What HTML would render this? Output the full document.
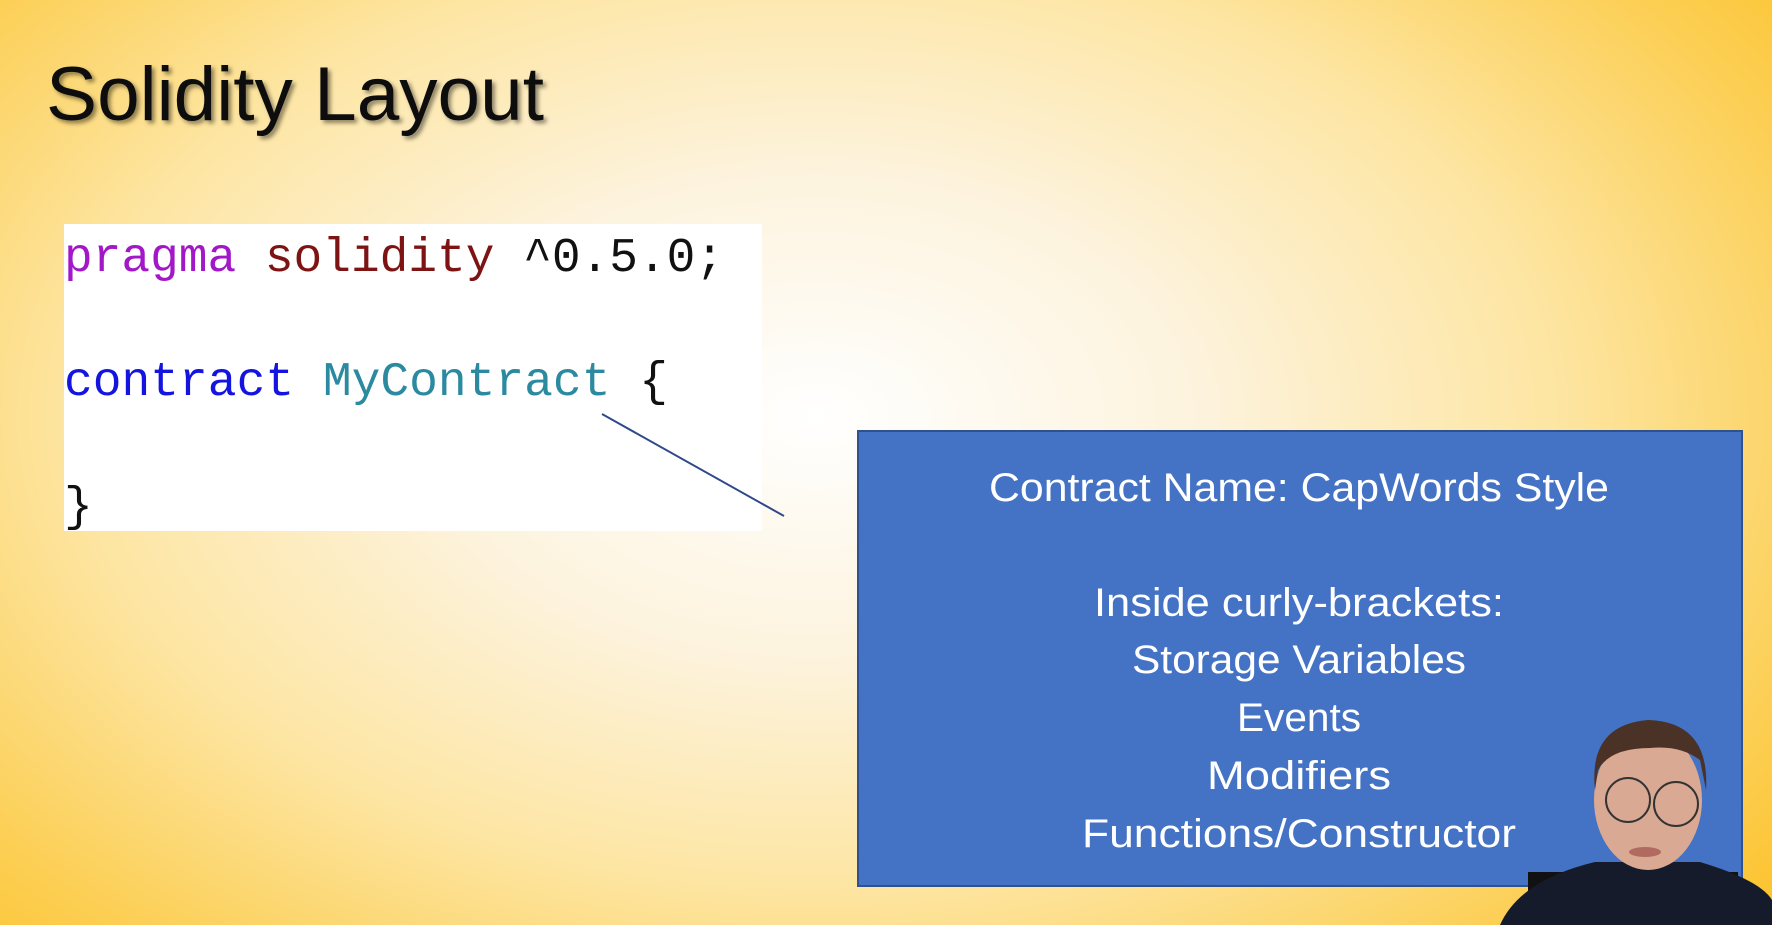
<!DOCTYPE html>
<html><head><meta charset="utf-8"><style>
html,body{margin:0;padding:0;width:1772px;height:925px;overflow:hidden}
body{background:radial-gradient(ellipse 72% 88% at 46% 45%, #ffffff 0%, #fdf3dd 30%, #fde5a2 58%, #fccf55 82%, #fbc024 100%)}
</style></head><body>
<svg width="1772" height="925" viewBox="0 0 1772 925" xmlns="http://www.w3.org/2000/svg" style="position:absolute;left:0;top:0">
<defs><filter id="sh" x="-10%" y="-10%" width="130%" height="140%"><feDropShadow dx="3" dy="3" stdDeviation="2" flood-color="#000" flood-opacity="0.45"/></filter></defs>
<text x="46" y="120" font-family="Liberation Sans, sans-serif" font-size="76" fill="#111" textLength="498" lengthAdjust="spacingAndGlyphs" filter="url(#sh)">Solidity Layout</text>
<rect x="64" y="224" width="698" height="307" fill="#fff"/>
<g font-family="Liberation Mono, monospace" font-size="48">
<text x="64" y="271" textLength="660" lengthAdjust="spacingAndGlyphs"><tspan fill="#a218c8">pragma</tspan> <tspan fill="#7e1313">solidity</tspan> <tspan fill="#111">^0.5.0;</tspan></text>
<text x="64" y="395" textLength="604" lengthAdjust="spacingAndGlyphs"><tspan fill="#1414e0">contract</tspan> <tspan fill="#2b8aa0">MyContract</tspan> <tspan fill="#111">{</tspan></text>
<text x="64" y="520" fill="#111">}</text>
</g>
<line x1="602" y1="414" x2="784" y2="516" stroke="#2f4a8a" stroke-width="2"/>
<rect x="858" y="431" width="884" height="455" fill="#4472c4" stroke="#2f528f" stroke-width="2"/>
<g font-family="Liberation Sans, sans-serif" font-size="40" fill="#fff" text-anchor="middle">
<text x="1299" y="501" textLength="620" lengthAdjust="spacingAndGlyphs">Contract Name: CapWords Style</text>
<text x="1299" y="616" textLength="410" lengthAdjust="spacingAndGlyphs">Inside curly-brackets:</text>
<text x="1299" y="673" textLength="334" lengthAdjust="spacingAndGlyphs">Storage Variables</text>
<text x="1299" y="731" textLength="124" lengthAdjust="spacingAndGlyphs">Events</text>
<text x="1299" y="789" textLength="184" lengthAdjust="spacingAndGlyphs">Modifiers</text>
<text x="1299" y="847" textLength="434" lengthAdjust="spacingAndGlyphs">Functions/Constructor</text>
</g>
<rect x="1528" y="872" width="210" height="53" fill="#111"/>
<path d="M1500 925 Q1520 880 1595 862 L1700 862 Q1760 880 1772 900 L1772 925 Z" fill="#161b2b"/>
<ellipse cx="1648" cy="800" rx="54" ry="70" fill="#d9a993"/>
<path d="M1595 790 Q1588 725 1648 720 Q1710 722 1706 790 L1700 760 Q1680 745 1650 748 Q1610 748 1598 770 Z" fill="#4a3226"/>
<circle cx="1628" cy="800" r="22" fill="none" stroke="#333" stroke-width="2"/>
<circle cx="1676" cy="804" r="22" fill="none" stroke="#333" stroke-width="2"/>
<ellipse cx="1645" cy="852" rx="16" ry="5" fill="#b06a60"/>
</svg>
</body></html>
